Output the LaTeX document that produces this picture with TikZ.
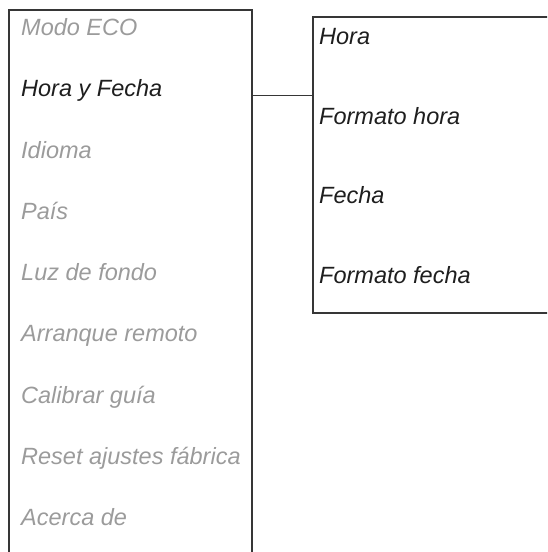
\documentclass[tikz,border=0pt]{standalone}
\usepackage{fontspec}
\setmainfont{Liberation Sans}
\usepackage{xcolor}
\usepackage{tikz}
\definecolor{menugray}{HTML}{9B9B9B}
\definecolor{menuink}{HTML}{1E1E1E}
\definecolor{frame}{HTML}{363636}

\begin{document}
\begin{tikzpicture}[x=1pt,y=-1pt,font=\fontsize{23.5}{28}\selectfont\itshape,
  panel/.style={draw=frame,line width=1.5pt,inner sep=0pt,anchor=north west},
  entry/.style={anchor=base west,inner sep=0pt}]
\path[use as bounding box,clip] (0,0) rectangle (547,552);

\node[panel,minimum width=243,minimum height=560] (menu) at (8,9) {};
\node[panel,minimum width=250,minimum height=296] (sub) at (312,16) {};

\foreach \lab/\col [count=\i from 0] in {Modo ECO/menugray,Hora y Fecha/menuink,
    Idioma/menugray,País/menugray,Luz de fondo/menugray,Arranque remoto/menugray,
    Calibrar guía/menugray,Reset ajustes fábrica/menugray,Acerca de/menugray}
  \node[entry,text=\col] (m\i) at (21,35.7+61.25*\i) {\lab};

\foreach \lab [count=\j from 0] in {Hora,Formato hora,Fecha,Formato fecha}
  \node[entry,text=menuink] (s\j) at (319,44.3+79.7*\j) {\lab};

\coordinate (link) at (0,95.7);
\draw[frame,line width=1pt] (menu.east |- link) -- (sub.west |- link);
\end{tikzpicture}
\end{document}
